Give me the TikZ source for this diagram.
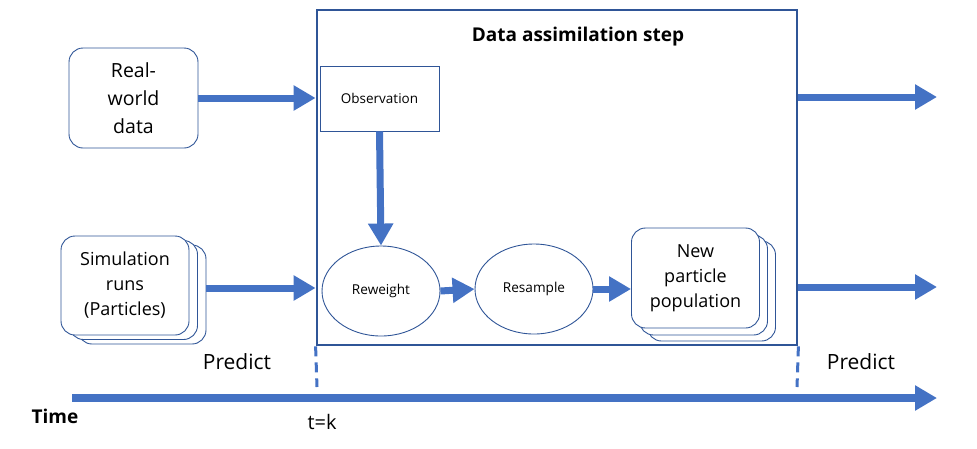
\documentclass[tikz,border=0pt]{standalone}
\usepackage{fontspec}
\setmainfont{Open Sans}
\usetikzlibrary{arrows.meta,shapes.geometric}
\definecolor{frame}{HTML}{2F5597}
\definecolor{arr}{HTML}{4472C4}
\tikzset{
  fatarrow/.style={draw=arr,line width=7pt,-{Triangle[length=22pt,width=24pt]}},
  rbox/.style={draw=frame,line width=0.9pt,rounded corners=14pt,fill=white,align=center,inner sep=0pt},
  ovalnode/.style={draw=frame,line width=0.9pt,ellipse,minimum width=118pt,minimum height=90pt,inner sep=0pt,font=\fontsize{13.6}{15}\selectfont},
  bigtxt/.style={font=\fontsize{18}{25}\selectfont},
  dashline/.style={draw=arr,line width=3pt,dash pattern=on 10pt off 6pt},
}
\begin{document}
\begin{tikzpicture}[x=1pt,y=-1pt]
\useasboundingbox (0,0) rectangle (977,448);
% main frame
\node[draw=frame,line width=2.8pt,minimum width=480pt,minimum height=335pt,inner sep=0pt] (box) at (557,177.5) {};
\node[font=\fontsize{19}{22}\selectfont\bfseries] (title) at (578,37) {Data assimilation step};
% real-world data
\node[rbox,minimum width=129pt,minimum height=100pt,font=\fontsize{19.5}{28}\selectfont] (rw) at (133.5,98) {Real-\\world\\data};
% simulation runs stack
\node[rbox,minimum width=128pt,minimum height=99pt] (sim3) at (142,294.5) {};
\node[rbox,minimum width=128pt,minimum height=99pt] (sim2) at (133.5,290) {};
\node[rbox,minimum width=128pt,minimum height=99pt,bigtxt] (sim) at (125,285.5) {Simulation\\runs\\(Particles)};
% observation
\node[draw=frame,line width=0.9pt,minimum width=119pt,minimum height=65pt,inner sep=0pt,font=\fontsize{13.5}{15}\selectfont] (obs) at (379.5,98.5) {Observation};
% ellipses
\node[ovalnode] (rew) at (381,291) {Reweight};
\node[ovalnode] (res) at (534,289) {Resample};
% new particle population stack
\node[rbox,minimum width=128pt,minimum height=100pt] (new3) at (711.5,291) {};
\node[rbox,minimum width=128pt,minimum height=100pt] (new2) at (703.5,285) {};
\node[rbox,minimum width=128pt,minimum height=100pt,bigtxt] (new) at (695.5,278) {New\\particle\\population};
% arrows
\draw[fatarrow] (rw.east) -- (rw.east -| box.west);
\draw[fatarrow] (sim3.east |- 0,288) -- (box.west |- 0,288);
\draw[fatarrow] (obs.south) -- (rew.north);
\draw[fatarrow] (rew.east) -- (res.west);
\draw[fatarrow] (res.east) -- (new.west |- res.east);
\coordinate (o1) at (937,97);
\coordinate (o2) at (937,287);
\draw[fatarrow] (box.east |- o1) -- (o1);
\draw[fatarrow] (box.east |- o2) -- (o2);
% dashed markers
\coordinate (d1) at (317,387);
\coordinate (d2) at (797,387);
\draw[dashline] (box.south west) -- (d1);
\draw[dashline] (box.south east) -- (d2);
% time axis
\coordinate (t0) at (72,398);
\coordinate (t1) at (937,398);
\draw[fatarrow,line width=8pt] (t0) -- (t1);
% labels
\node[font=\fontsize{21}{24}\selectfont] (p1) at (237,362) {Predict};
\node[font=\fontsize{21}{24}\selectfont] (p2) at (861,362) {Predict};
\node[font=\fontsize{19}{22}\selectfont\bfseries] (time) at (55,416) {Time};
\node[font=\fontsize{20}{22}\selectfont] (tk) at (322,422) {t=k};
\end{tikzpicture}
\end{document}
